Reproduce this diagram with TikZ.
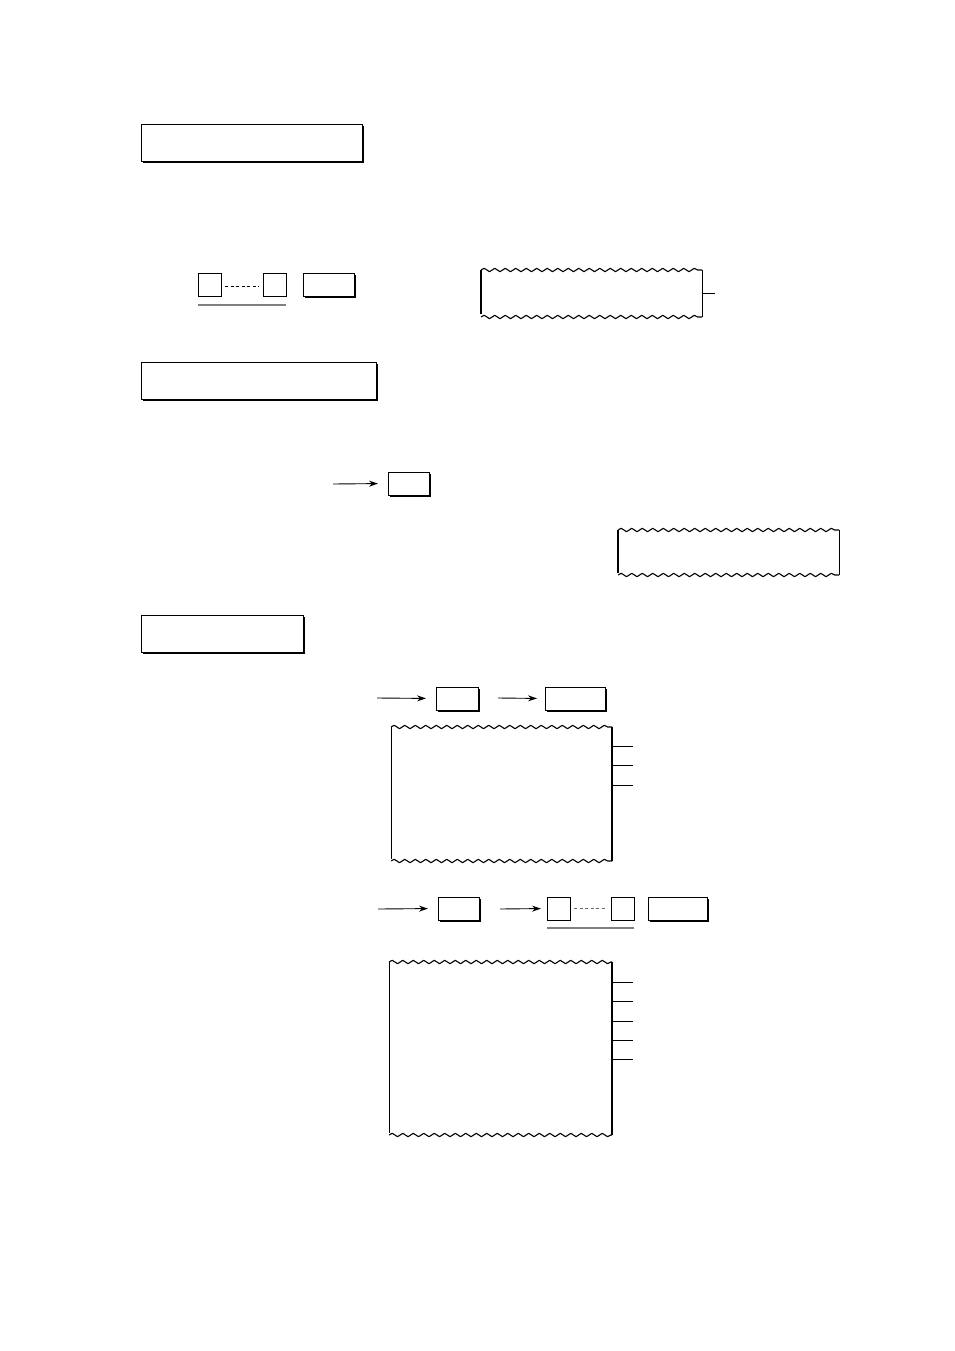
\documentclass[tikz,border=0pt]{standalone}
\usetikzlibrary{positioning,arrows.meta,shadows,decorations.pathmorphing}

\begin{document}
\begin{tikzpicture}[x=1pt, y=-1pt, line width=0.9pt,
	every node/.style={inner sep=0pt, outer sep=0pt, anchor=north west},
	headbox/.style={draw, fill=white, minimum height=37pt, drop shadow={shadow xshift=1.6pt, shadow yshift=-1.6pt, fill=black, opacity=1}},
	keybox/.style={draw, fill=white, minimum height=23pt, drop shadow={shadow xshift=1.6pt, shadow yshift=-1.6pt, fill=black, opacity=1}},
	digit/.style={draw, minimum width=23pt, minimum height=23pt},
	span/.style={draw=black!50, line width=1.6pt},
	gap/.style={dashed, dash pattern=on 3pt off 2.5pt, line width=0.7pt},
	arr/.style={-{Stealth[length=9pt, width=6pt, inset=3pt]}, shorten >=10pt},
	wave/.style={decorate, decoration={snake, segment length=10.5pt, amplitude=1.7pt}, line width=1.1pt, line join=round},
	edge/.style={line width=1.8pt}]

	\useasboundingbox (0,0) rectangle (954,1351);

	% section headings
	\node[headbox, minimum width=221pt] (head1) at (141,124) {};
	\node[headbox, minimum width=235pt] (head2) at (141,362) {};
	\node[headbox, minimum width=162pt] (head3) at (141,615) {};

	% first key sequence
	\node[digit] (d1) at (198,273) {};
	\node[digit, right=42pt of d1] (d2) {};
	\draw[gap] ([xshift=4pt, yshift=-2pt]d1.east) -- ([xshift=-4pt, yshift=-2pt]d2.west);
	\draw[span] ([yshift=-9pt]d1.south west) -- ([yshift=-9pt]d2.south east);
	\node[keybox, minimum width=51pt, right=17pt of d2] (k1) {};

	% first receipt
	\draw[wave] (481,270) -- (702,270);
	\draw[wave] (481,317) -- (702,317);
	\draw[edge] (481,270) -- (481,314);
	\draw (702,270) -- (702,317);
	\draw (702,293) -- (715,293);

	% second key
	\node[keybox, minimum width=41pt] (k2) at (388,472) {};
	\coordinate (a2) at (333,484);
	\draw[arr] (a2) -- (k2.west);

	% second receipt
	\draw[wave] (618,530) -- (839,530);
	\draw[wave] (618,575) -- (839,575);
	\draw[edge] (618,530) -- (618,573);
	\draw (839,530) -- (839,575);

	% third key sequence
	\node[keybox, minimum width=42pt] (k3) at (436,687) {};
	\node[keybox, minimum width=60pt] (k4) at (545,687) {};
	\coordinate (a3) at (377,698);
	\coordinate (a4) at (498,698);
	\draw[arr] (a3) -- (k3.west);
	\draw[arr, shorten >=8pt] (a4) -- (k4.west);

	% third receipt
	\draw[wave] (391,727) -- (612,727);
	\draw[wave] (391,861) -- (612,861);
	\draw (391,727) -- (391,859);
	\draw[edge] (612,727) -- (612,861);
	\foreach \y in {746,765,785}
		\draw (612,\y) -- (633,\y);

	% fourth key sequence
	\node[keybox, minimum width=41pt] (k5) at (438,897) {};
	\node[digit] (d3) at (547,897) {};
	\node[digit, right=41pt of d3] (d4) {};
	\draw[gap, draw=black!60] ([xshift=4pt]d3.east) -- ([xshift=-4pt]d4.west);
	\draw[span] ([yshift=-8pt]d3.south west) -- ([yshift=-8pt]d4.south east);
	\node[keybox, minimum width=59pt, right=14pt of d4] (k6) {};
	\coordinate (a5) at (378,909);
	\coordinate (a6) at (500,909);
	\draw[arr] (a5) -- (k5.west);
	\draw[arr, shorten >=6pt] (a6) -- (d3.west);

	% fourth receipt
	\draw[wave] (389,962) -- (612,962);
	\draw[wave] (389,1135) -- (612,1135);
	\draw (389,962) -- (389,1133);
	\draw[edge] (612,962) -- (612,1135);
	\foreach \y in {982,1001,1021,1040,1059}
		\draw (612,\y) -- (633,\y);

\end{tikzpicture}
\end{document}
